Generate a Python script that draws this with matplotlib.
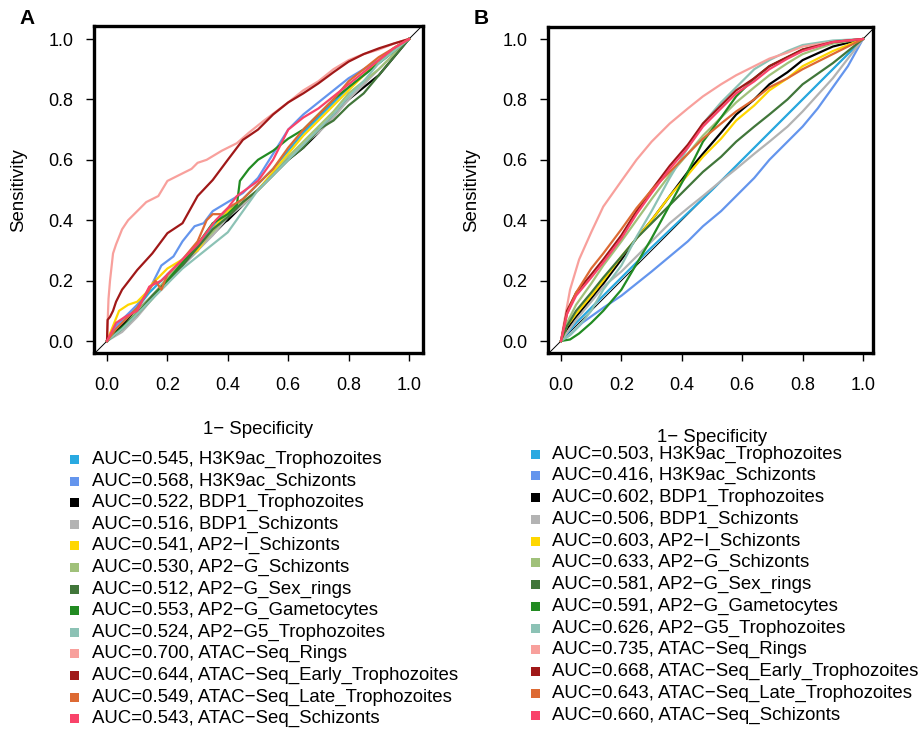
import numpy as np
import matplotlib
matplotlib.use("Agg")
import matplotlib.pyplot as plt
from matplotlib.patches import Rectangle

plt.rcParams['font.family'] = ['Liberation Sans', 'DejaVu Sans']

# ---- series names, colours, AUC values ----
names = ["H3K9ac_Trophozoites", "H3K9ac_Schizonts", "BDP1_Trophozoites", "BDP1_Schizonts",
         "AP2\u2212I_Schizonts", "AP2\u2212G_Schizonts", "AP2\u2212G_Sex_rings",
         "AP2\u2212G_Gametocytes", "AP2\u2212G5_Trophozoites", "ATAC\u2212Seq_Rings",
         "ATAC\u2212Seq_Early_Trophozoites", "ATAC\u2212Seq_Late_Trophozoites",
         "ATAC\u2212Seq_Schizonts"]
colors = ["#29A9E1", "#6495ED", "#000000", "#B3B3B3", "#FFD700", "#A0C17A", "#41763A",
          "#228B22", "#8CC2B5", "#F8A09C", "#A01818", "#DD6A33", "#F9436A"]
auc_a = [0.545, 0.568, 0.522, 0.516, 0.541, 0.530, 0.512, 0.553, 0.524, 0.700, 0.644, 0.549, 0.543]
auc_b = [0.503, 0.416, 0.602, 0.506, 0.603, 0.633, 0.581, 0.591, 0.626, 0.735, 0.668, 0.643, 0.660]

roc_a = [
    ([0, .03, .06, .1, .14, .2, .25, .3, .35, .4, .45, .5, .55, .6, .65, .7, .75, .8, .85, .9, .95, 1],
     [0, .04, .07, .11, .16, .22, .27, .32, .38, .43, .47, .52, .57, .63, .69, .74, .79, .84, .88, .92, .96, 1]),
    ([0, .03, .05, .1, .14, .18, .22, .25, .29, .32, .35, .4, .45, .5, .55, .6, .65, .7, .75, .8, .85, .9, .95, 1],
     [0, .05, .07, .12, .17, .25, .28, .33, .38, .39, .43, .46, .49, .54, .62, .7, .75, .79, .83, .87, .9, .93, .97, 1]),
    ([0, .03, .07, .1, .15, .2, .25, .3, .33, .36, .4, .45, .5, .55, .6, .65, .7, .75, .8, .85, .9, .95, 1],
     [0, .03, .07, .1, .15, .2, .25, .3, .34, .38, .4, .45, .5, .55, .6, .64, .69, .75, .8, .84, .88, .94, 1]),
    ([0, .05, .1, .15, .2, .25, .3, .35, .4, .45, .5, .55, .6, .65, .7, .75, .8, .85, .9, .95, 1],
     [0, .03, .08, .14, .19, .25, .3, .35, .41, .45, .5, .55, .6, .65, .69, .74, .8, .85, .9, .95, 1]),
    ([0, .02, .04, .07, .1, .13, .15, .2, .25, .3, .35, .4, .45, .5, .55, .6, .65, .7, .75, .8, .85, .9, .95, 1],
     [0, .05, .1, .12, .13, .16, .19, .24, .27, .3, .37, .43, .46, .5, .56, .62, .68, .73, .78, .83, .88, .93, .97, 1]),
    ([0, .05, .1, .15, .2, .25, .3, .35, .4, .45, .5, .55, .6, .65, .7, .75, .8, .85, .9, .95, 1],
     [0, .04, .1, .15, .21, .26, .31, .36, .42, .46, .5, .55, .61, .66, .71, .76, .82, .86, .9, .95, 1]),
    ([0, .05, .1, .15, .2, .25, .3, .35, .4, .45, .5, .55, .6, .65, .7, .75, .8, .85, .9, .95, 1],
     [0, .04, .09, .15, .2, .25, .31, .37, .41, .46, .5, .55, .6, .64, .7, .73, .78, .82, .88, .94, 1]),
    ([0, .05, .1, .15, .2, .25, .3, .35, .4, .43, .44, .47, .5, .55, .6, .65, .7, .75, .8, .85, .9, .95, 1],
     [0, .045, .09, .14, .2, .26, .32, .39, .42, .45, .53, .57, .6, .63, .67, .7, .75, .8, .84, .88, .92, .96, 1]),
    ([0, .05, .1, .15, .2, .25, .3, .35, .4, .45, .5, .55, .6, .65, .7, .75, .8, .85, .9, .95, 1],
     [0, .04, .09, .14, .19, .24, .28, .32, .36, .43, .5, .55, .6, .65, .7, .75, .81, .86, .92, .96, 1]),
    ([0, .002, .005, .01, .02, .03, .05, .07, .1, .13, .17, .2, .24, .28, .3, .33, .38, .43, .47, .52, .56, .6, .65, .7, .75, .8, .85, .9, .95, 1],
     [0, .06, .14, .2, .29, .32, .37, .4, .43, .46, .48, .53, .55, .57, .59, .6, .63, .655, .69, .73, .76, .79, .83, .86, .9, .93, .95, .965, .985, 1]),
    ([0, .002, .01, .02, .03, .05, .1, .15, .2, .25, .3, .35, .4, .45, .5, .55, .6, .65, .7, .75, .8, .85, .9, .95, 1],
     [0, .07, .08, .1, .13, .17, .235, .29, .357, .39, .48, .533, .6, .666, .7, .75, .79, .82, .853, .89, .925, .95, .969, .985, 1]),
    ([0, .03, .06, .1, .14, .16, .18, .2, .25, .3, .33, .35, .38, .4, .45, .5, .55, .6, .65, .7, .75, .8, .85, .9, .95, 1],
     [0, .04, .07, .11, .17, .2, .17, .22, .27, .33, .4, .42, .42, .44, .47, .52, .57, .64, .7, .75, .8, .86, .9, .94, .97, 1]),
    ([0, .03, .06, .1, .14, .18, .2, .25, .3, .36, .4, .43, .5, .55, .6, .65, .7, .75, .8, .85, .9, .95, 1],
     [0, .06, .08, .1, .18, .2, .22, .27, .32, .4, .44, .48, .53, .6, .7, .74, .77, .81, .85, .89, .93, .97, 1]),
]

# ---- panel B: smoothed ROC curves ----
roc_b = [
    ([0, .05, .1, .2, .3, .4, .5, .6, .7, .8, .9, 1],
     [0, .06, .11, .21, .31, .405, .5, .6, .7, .8, .9, 1]),
    ([0, .03, .07, .14, .2, .25, .3, .36, .42, .47, .53, .58, .64, .69, .75, .8, .85, .9, .95, 1],
     [0, .02, .06, .11, .15, .19, .23, .28, .33, .38, .43, .48, .54, .6, .66, .71, .77, .84, .91, 1]),
    ([0, .02, .05, .1, .14, .2, .25, .3, .36, .42, .47, .53, .58, .64, .69, .75, .8, .9, 1],
     [0, .04, .08, .14, .19, .27, .34, .4, .48, .56, .62, .69, .75, .8, .85, .89, .93, .975, 1]),
    ([0, .05, .1, .14, .2, .25, .3, .36, .42, .47, .53, .58, .64, .69, .75, .8, .9, 1],
     [0, .07, .13, .18, .23, .28, .33, .39, .44, .48, .53, .57, .62, .66, .71, .76, .87, 1]),
    ([0, .02, .05, .1, .14, .2, .25, .3, .36, .42, .47, .53, .58, .64, .69, .75, .8, .9, 1],
     [0, .05, .09, .15, .2, .28, .34, .4, .48, .55, .61, .67, .73, .78, .83, .87, .91, .96, 1]),
    ([0, .02, .05, .1, .14, .2, .25, .3, .36, .42, .47, .53, .58, .64, .69, .75, .8, .9, 1],
     [0, .06, .12, .19, .25, .33, .4, .47, .55, .62, .68, .74, .79, .84, .88, .92, .95, .985, 1]),
    ([0, .02, .05, .1, .14, .2, .25, .3, .36, .42, .47, .53, .58, .64, .69, .75, .8, .9, 1],
     [0, .05, .1, .16, .21, .28, .34, .39, .45, .51, .56, .61, .66, .71, .75, .8, .85, .92, 1]),
    ([0, .03, .06, .1, .14, .2, .25, .3, .36, .42, .47, .53, .58, .64, .69, .75, .8, .9, 1],
     [0, .005, .025, .06, .1, .17, .255, .34, .45, .56, .66, .74, .81, .87, .91, .94, .965, .99, 1]),
    ([0, .03, .06, .1, .14, .2, .25, .3, .36, .42, .47, .53, .58, .64, .69, .75, .8, .9, 1],
     [0, .02, .05, .1, .17, .25, .345, .43, .54, .64, .72, .79, .84, .9, .93, .96, .98, .995, 1]),
    ([0, .01, .03, .06, .1, .14, .2, .25, .3, .36, .42, .47, .53, .58, .64, .69, .75, .8, .9, 1],
     [0, .06, .17, .27, .36, .445, .53, .6, .66, .72, .77, .81, .85, .88, .91, .935, .955, .975, .99, 1]),
    ([0, .02, .05, .1, .14, .2, .25, .3, .36, .42, .47, .53, .58, .64, .69, .75, .8, .9, 1],
     [0, .1, .16, .22, .27, .35, .43, .5, .58, .65, .72, .78, .83, .87, .91, .94, .965, .99, 1]),
    ([0, .02, .05, .1, .14, .2, .25, .3, .36, .42, .47, .53, .58, .64, .69, .75, .8, .9, 1],
     [0, .09, .16, .24, .29, .37, .44, .5, .56, .62, .67, .72, .76, .8, .84, .87, .9, .95, 1]),
    ([0, .02, .05, .1, .14, .2, .25, .3, .36, .42, .47, .53, .58, .64, .69, .75, .8, .9, 1],
     [0, .09, .15, .21, .26, .34, .42, .49, .57, .64, .71, .77, .82, .86, .9, .935, .96, .99, 1]),
]

ticks = [0.0, 0.2, 0.4, 0.6, 0.8, 1.0]
tick_labels = ["0.0", "0.2", "0.4", "0.6", "0.8", "1.0"]

fig = plt.figure(figsize=(9.21, 7.30), dpi=100)
W, H = 921.0, 730.0


def make_panel(left_px, right_px, top_px, bottom_px, x0_px, curves, lw):
    ax = fig.add_axes([left_px / W, 1 - bottom_px / H, (right_px - left_px) / W,
                       (bottom_px - top_px) / H])
    unit = 302.0
    ax.set_xlim((left_px - x0_px) / unit, (right_px - x0_px) / unit)
    ax.set_ylim((341 - bottom_px) / unit, (341 - top_px) / unit)
    ax.axline((0, 0), (1, 1), color="black", lw=0.7, zorder=1)
    for (xs, ys), c in zip(curves, colors):
        ax.plot(xs, ys, color=c, lw=lw, solid_joinstyle="round", zorder=2)
    for s in ax.spines.values():
        s.set_linewidth(2.4)
    ax.set_xticks(ticks)
    ax.set_xticklabels(tick_labels)
    ax.set_yticks(ticks)
    ax.set_yticklabels(tick_labels)
    ax.tick_params(direction="out", length=6, width=1, labelsize=13)
    ax.tick_params(axis="x", pad=11)
    ax.tick_params(axis="y", pad=9)
    return ax


ax_a = make_panel(94, 423, 26, 353, 107, roc_a, 1.6)
ax_b = make_panel(548, 873, 27, 353, 561, roc_b, 1.6)

# axis labels
fig.text(258 / W, 1 - 430 / H, "1\u2212 Specificity", ha="center", va="center", fontsize=13.4)
fig.text(712 / W, 1 - 437 / H, "1\u2212 Specificity", ha="center", va="center", fontsize=13.4)
fig.text(19 / W, 1 - 190 / H, "Sensitivity", ha="center", va="center", rotation=90, fontsize=13.4)
fig.text(472 / W, 1 - 190 / H, "Sensitivity", ha="center", va="center", rotation=90, fontsize=13.4)

# panel letters
fig.text(27 / W, 1 - 19 / H, "A", ha="center", va="center", fontsize=15, fontweight="bold")
fig.text(481 / W, 1 - 19 / H, "B", ha="center", va="center", fontsize=15, fontweight="bold")


def draw_legend(sq_x, txt_x, y0, dy, aucs):
    for i, (nm, c, a) in enumerate(zip(names, colors, aucs)):
        yc = y0 + i * dy
        fig.patches.append(Rectangle(((sq_x - 4.5) / W, 1 - (yc + 4.5) / H), 9 / W, 9 / H,
                                     transform=fig.transFigure, facecolor=c, edgecolor="none"))
        fig.text(txt_x / W, 1 - yc / H, "AUC=%.3f, %s" % (a, nm), ha="left", va="center",
                 fontsize=13.4)


draw_legend(74.5, 92, 459.5, 21.6, auc_a)
draw_legend(535.5, 552, 454, 21.75, auc_b)

fig.savefig("out.png", dpi=100)
